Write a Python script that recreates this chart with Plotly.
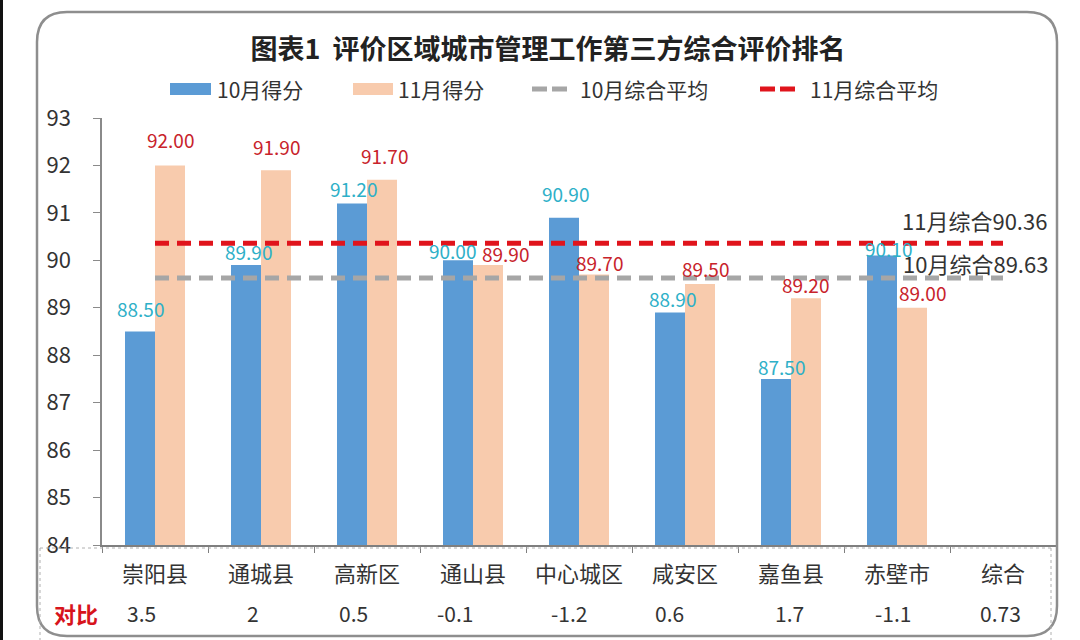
import plotly.graph_objects as go

# ---------------- data ----------------
categories = ["崇阳县", "通城县", "高新区", "通山县", "中心城区", "咸安区", "嘉鱼县", "赤壁市", "综合"]
oct_scores = [88.50, 89.90, 91.20, 90.00, 90.90, 88.90, 87.50, 90.10, None]
nov_scores = [92.00, 91.90, 91.70, 89.90, 89.70, 89.50, 89.20, 89.00, None]
oct_avg = 89.63
nov_avg = 90.36
diff_values = ["3.5", "2", "0.5", "-0.1", "-1.2", "0.6", "1.7", "-1.1", "0.73"]
series_names = ["10月得分", "11月得分", "10月综合平均", "11月综合平均"]
title_text = "图表1  评价区域城市管理工作第三方综合评价排名"
diff_label = "对比"
y_ticks = [84, 85, 86, 87, 88, 89, 90, 91, 92, 93]

# ---------------- style ----------------
W, H = 1080, 640
L, R, T, B = 102, 1056, 118, 545
FONT = "Noto Sans CJK SC, Noto Sans, sans-serif"
BLUE, PEACH = "#5B9BD5", "#F8CBAD"
GREY_LINE, RED_LINE = "#A6A6A6", "#E0141C"
BLUE_TXT, RED_TXT = "#2EB0C8", "#C8232B"
TXT = "#333333"
diff_xshift = [-14, -8, -14, -18, -10, -16, -2, -4, -3]
# hand placement of value labels in the reference (pixels)
blue_lbl_dx = [0, 2, 1, -6, 1, 2, 5, 6]
blue_lbl_dy = [8, -2, -1, -6, 9, -1, -3, -8]
red_lbl_dx = [0, 0, 2, 17, 5, 5, -1, 10]
red_lbl_dy = [10, 8, 9, -4, -3, 0, -2, 0]


def px(x):
    return (x - L) / (R - L)


def py(y):
    return (B - y) / (B - T)


fig = go.Figure()
fig.add_trace(go.Bar(x=categories, y=oct_scores, name=series_names[0],
                     marker=dict(color=BLUE, line=dict(width=0))))
fig.add_trace(go.Bar(x=categories, y=nov_scores, name=series_names[1],
                     marker=dict(color=PEACH, line=dict(width=0))))
fig.add_trace(go.Scatter(x=categories, y=[oct_avg] * len(categories), name=series_names[2],
                         mode="lines", line=dict(color=GREY_LINE, width=5, dash="14px,8px")))
fig.add_trace(go.Scatter(x=categories, y=[nov_avg] * len(categories), name=series_names[3],
                         mode="lines", line=dict(color=RED_LINE, width=5, dash="14px,8px")))

annotations = []
# bar value labels
for i, (c, v) in enumerate(zip(categories, oct_scores)):
    if v is not None:
        annotations.append(dict(x=c, y=v, xref="x", yref="y", text=f"{v:.2f}", showarrow=False,
                                xshift=-15 + blue_lbl_dx[i], yshift=blue_lbl_dy[i], yanchor="bottom",
                                font=dict(family=FONT, size=19, color=BLUE_TXT)))
for i, (c, v) in enumerate(zip(categories, nov_scores)):
    if v is not None:
        annotations.append(dict(x=c, y=v, xref="x", yref="y", text=f"{v:.2f}", showarrow=False,
                                xshift=15 + red_lbl_dx[i], yshift=red_lbl_dy[i], yanchor="bottom",
                                font=dict(family=FONT, size=19, color=RED_TXT)))
# average labels
annotations.append(dict(x=px(1049), y=nov_avg, xref="paper", yref="y", text=f"11月综合{nov_avg:.2f}",
                        showarrow=False, xanchor="right", yanchor="middle", yshift=23,
                        font=dict(family=FONT, size=22, color=TXT)))
annotations.append(dict(x=px(1050), y=oct_avg, xref="paper", yref="y", text=f"10月综合{oct_avg:.2f}",
                        showarrow=False, xanchor="right", yanchor="middle", yshift=15,
                        font=dict(family=FONT, size=22, color=TXT)))
# comparison row
annotations.append(dict(x=px(76), y=py(613), xref="paper", yref="paper", text=f"<b>{diff_label}</b>",
                        showarrow=False, xanchor="center", yanchor="middle",
                        font=dict(family=FONT, size=22, color="#D7141C")))
for c, d, xs in zip(categories, diff_values, diff_xshift):
    annotations.append(dict(x=c, y=py(613), xref="x", yref="paper", text=d, showarrow=False,
                            xshift=xs, xanchor="center", yanchor="middle",
                            font=dict(family=FONT, size=21, color=TXT)))

# manual legend
leg_y = py(89)
shapes = []
shapes.append(dict(type="rect", xref="paper", yref="paper", x0=px(170), x1=px(211),
                   y0=py(95), y1=py(83), fillcolor=BLUE, line=dict(width=0)))
shapes.append(dict(type="rect", xref="paper", yref="paper", x0=px(353), x1=px(393),
                   y0=py(95), y1=py(83), fillcolor=PEACH, line=dict(width=0)))
shapes.append(dict(type="line", xref="paper", yref="paper", x0=px(532), x1=px(567),
                   y0=leg_y, y1=leg_y, line=dict(color=GREY_LINE, width=5, dash="15px,5px")))
shapes.append(dict(type="line", xref="paper", yref="paper", x0=px(760), x1=px(795),
                   y0=leg_y, y1=leg_y, line=dict(color=RED_LINE, width=5, dash="15px,5px")))
for name, x0 in zip(series_names, [215, 396, 578, 808]):
    annotations.append(dict(x=px(x0), y=leg_y, xref="paper", yref="paper", text=name, showarrow=False,
                            xanchor="left", yanchor="middle",
                            font=dict(family=FONT, size=21, color=TXT)))

# rounded outer border
x0, x1, y0, y1, r = 37, 1057, 12, 636, 30
rx, ry = r / (R - L), r / (B - T)
X0, X1, Y0, Y1 = px(x0), px(x1), py(y0), py(y1)
path = (f"M {X0 + rx},{Y0} L {X1 - rx},{Y0} Q {X1},{Y0} {X1},{Y0 - ry} "
        f"L {X1},{Y1 + ry} Q {X1},{Y1} {X1 - rx},{Y1} "
        f"L {X0 + rx},{Y1} Q {X0},{Y1} {X0},{Y1 + ry} "
        f"L {X0},{Y0 - ry} Q {X0},{Y0} {X0 + rx},{Y0} Z")
shapes.append(dict(type="path", xref="paper", yref="paper", path=path,
                   line=dict(color="#8E8E8E", width=2.5), layer="above"))
# table dotted lines
shapes.append(dict(type="line", xref="paper", yref="paper", x0=px(40), x1=px(1052), y0=py(548), y1=py(548),
                   line=dict(color="#B0B0B0", width=1, dash="dot")))
shapes.append(dict(type="line", xref="paper", yref="paper", x0=px(40), x1=px(40), y0=py(548), y1=py(640),
                   line=dict(color="#B0B0B0", width=1, dash="dot")))
shapes.append(dict(type="line", xref="paper", yref="paper", x0=px(1051), x1=px(1051), y0=py(548), y1=py(640),
                   line=dict(color="#B0B0B0", width=1, dash="dot")))
# dark strip at left edge
shapes.append(dict(type="rect", xref="paper", yref="paper", x0=px(0), x1=px(3), y0=py(0), y1=py(640),
                   fillcolor="#111111", line=dict(width=0)))

fig.update_layout(
    width=W, height=H,
    margin=dict(l=L, r=W - R, t=T, b=H - B, pad=0),
    paper_bgcolor="white", plot_bgcolor="white",
    barmode="group", bargap=0.434, bargroupgap=0,
    showlegend=False,
    title=dict(text=f"<b>{title_text}</b>", x=548 / W, xref="container", xanchor="center",
               y=1 - 50 / H, yref="container", yanchor="middle",
               font=dict(family=FONT, size=27, color="#222222")),
    font=dict(family=FONT, color=TXT),
    annotations=annotations, shapes=shapes,
    xaxis=dict(type="category", categoryarray=categories, showgrid=False,
               showline=True, linecolor="#7F7F7F", linewidth=1.5,
               ticks="outside", tickson="boundaries", ticklen=6, tickcolor="#7F7F7F",
               tickfont=dict(family=FONT, size=22, color=TXT), ticklabelstandoff=9,
               fixedrange=True),
    yaxis=dict(range=[84, 93], tickvals=y_ticks, showgrid=False, zeroline=False,
               showline=True, linecolor="#8A8A8A", linewidth=1.5,
               ticks="outside", ticklen=7, tickcolor="#8A8A8A",
               tickfont=dict(family=FONT, size=22, color=TXT), ticklabelstandoff=18,
               fixedrange=True),
)

fig.write_html("out.html", config={"displayModeBar": False})

# remove the default page margin so the figure sits at the window's top-left corner
with open("out.html", "r", encoding="utf-8") as f:
    html = f.read()
html = html.replace("<head>", "<head><style>html,body{margin:0;padding:0;overflow:hidden;}</style>", 1)
with open("out.html", "w", encoding="utf-8") as f:
    f.write(html)
